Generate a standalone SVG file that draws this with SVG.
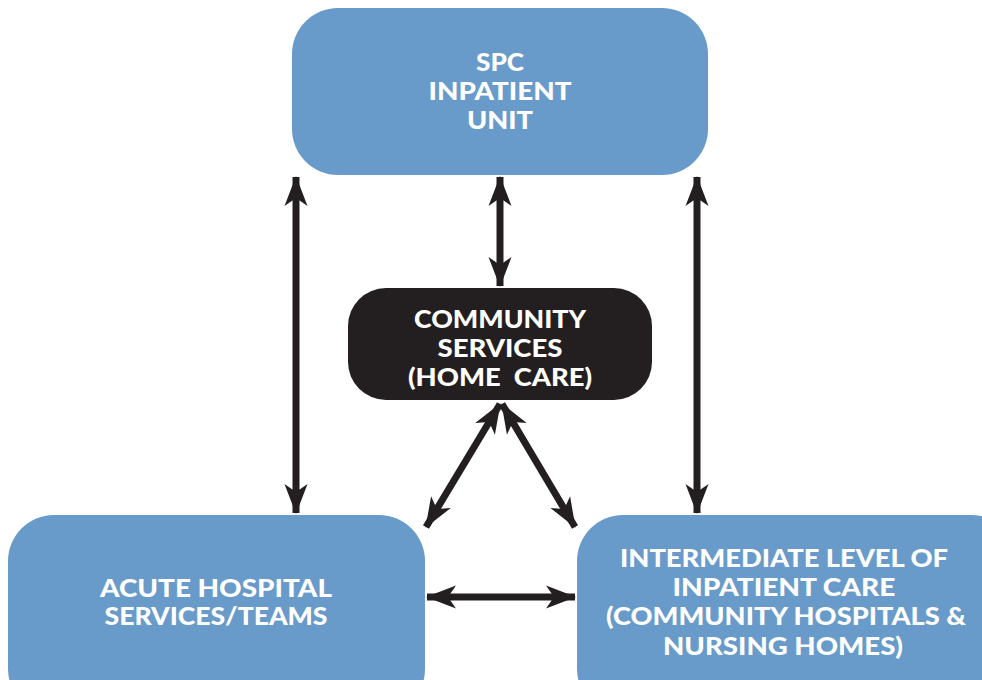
<svg xmlns="http://www.w3.org/2000/svg" width="982" height="680" viewBox="0 0 982 680">
  <defs>
    <style>
      .box { fill: #689bc9; }
      .dark { fill: #231f20; }
      .lbl { font-family: Lato, "Open Sans", "Liberation Sans", sans-serif; font-weight: 900; font-size: 25px; fill: #ffffff; text-anchor: middle; }
      .link { stroke: #231f20; stroke-width: 7; fill: none; marker-start: url(#head); marker-end: url(#head); }
    </style>
    <marker id="head" markerUnits="userSpaceOnUse" markerWidth="32" markerHeight="26" viewBox="0 -13 30 26" refX="29" refY="0" orient="auto-start-reverse">
      <path d="M0,-11.5 L30,0 L0,11.5 L8,0 z" fill="#231f20"/>
    </marker>
  </defs>

  <g id="connectors">
    <line class="link" x1="296" y1="177" x2="296" y2="513"/>
    <line class="link" x1="697" y1="177" x2="697" y2="513"/>
    <line class="link" x1="500" y1="177" x2="500" y2="286"/>
    <line class="link" x1="500" y1="404" x2="426" y2="527"/>
    <line class="link" x1="502" y1="404" x2="575" y2="527"/>
    <line class="link" x1="427" y1="597" x2="575" y2="597"/>
  </g>

  <g id="spc-inpatient-unit">
    <rect class="box" x="292" y="8" width="416" height="167" rx="46" ry="46"/>
    <text class="lbl" x="500" y="71" textLength="48" lengthAdjust="spacingAndGlyphs">SPC</text>
    <text class="lbl" x="500" y="100" textLength="143" lengthAdjust="spacingAndGlyphs">INPATIENT</text>
    <text class="lbl" x="500" y="129" textLength="66" lengthAdjust="spacingAndGlyphs">UNIT</text>
  </g>

  <g id="community-services">
    <rect class="dark" x="348" y="288" width="304" height="112" rx="38" ry="38"/>
    <text class="lbl" x="500" y="328" textLength="172" lengthAdjust="spacingAndGlyphs">COMMUNITY</text>
    <text class="lbl" x="500" y="357" textLength="125" lengthAdjust="spacingAndGlyphs">SERVICES</text>
    <text class="lbl" x="500" y="386" textLength="184" lengthAdjust="spacingAndGlyphs" xml:space="preserve">(HOME  CARE)</text>
  </g>

  <g id="acute-hospital">
    <rect class="box" x="8" y="515" width="417" height="200" rx="46" ry="46"/>
    <text class="lbl" x="216" y="597" textLength="232" lengthAdjust="spacingAndGlyphs">ACUTE HOSPITAL</text>
    <text class="lbl" x="216" y="625" textLength="223" lengthAdjust="spacingAndGlyphs">SERVICES/TEAMS</text>
  </g>

  <g id="intermediate-care">
    <rect class="box" x="577" y="515" width="440" height="200" rx="46" ry="46"/>
    <text class="lbl" x="784" y="567" textLength="328" lengthAdjust="spacingAndGlyphs">INTERMEDIATE LEVEL OF</text>
    <text class="lbl" x="784" y="596" textLength="223" lengthAdjust="spacingAndGlyphs">INPATIENT CARE</text>
    <text class="lbl" x="786" y="625" textLength="360" lengthAdjust="spacingAndGlyphs">(COMMUNITY HOSPITALS &amp;</text>
    <text class="lbl" x="783" y="655" textLength="240" lengthAdjust="spacingAndGlyphs">NURSING HOMES)</text>
  </g>
</svg>
